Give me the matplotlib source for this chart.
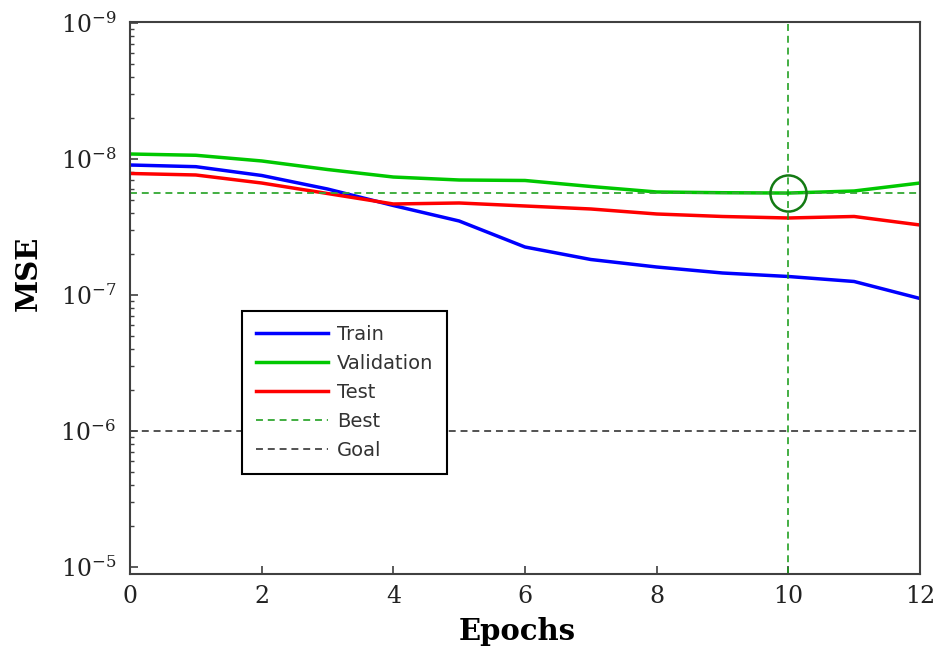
import matplotlib
matplotlib.use("Agg")
import matplotlib.pyplot as plt
from matplotlib.ticker import FixedLocator, FixedFormatter
import numpy as np

# performance values per epoch
epochs = list(range(13))
train = [1.107e-8, 1.139e-8, 1.322e-8, 1.662e-8, 2.198e-8, 2.857e-8, 4.437e-8,
         5.483e-8, 6.225e-8, 6.89e-8, 7.31e-8, 7.956e-8, 1.061e-7]
validation = [9.19e-9, 9.39e-9, 1.034e-8, 1.195e-8, 1.357e-8, 1.427e-8, 1.439e-8,
              1.593e-8, 1.748e-8, 1.77e-8, 1.78e-8, 1.719e-8, 1.502e-8]
test = [1.278e-8, 1.311e-8, 1.502e-8, 1.794e-8, 2.142e-8, 2.106e-8, 2.216e-8,
        2.331e-8, 2.537e-8, 2.647e-8, 2.715e-8, 2.647e-8, 3.057e-8]
goal = 1e-6
best_epoch = 10
best = validation[best_epoch]

y_major = [1e-9, 1e-8, 1e-7, 1e-6, 1e-5]
y_labels = ["$10^{-9}$", "$10^{-8}$", "$10^{-7}$", "$10^{-6}$", "$10^{-5}$"]
x_ticks = [0, 2, 4, 6, 8, 10, 12]

plt.rcParams['mathtext.fontset'] = 'dejavuserif'
plt.rcParams['lines.scale_dashes'] = False

fig = plt.figure(figsize=(9.42, 6.52), dpi=100)
ax = fig.add_axes([0.138, 0.1196, 0.8386, 0.8467])

ax.plot(epochs, train, color='#0000ff', lw=2.5, label='Train')
ax.plot(epochs, validation, color='#00c800', lw=2.5, label='Validation')
ax.plot(epochs, test, color='#ff0000', lw=2.5, label='Test')
ax.axhline(best, color='#33a833', lw=1.3, dashes=(5, 3.5), label='Best')
ax.axhline(goal, color='#444444', lw=1.3, dashes=(5, 3.5), label='Goal')
ax.axvline(best_epoch, color='#119911', lw=1.1, dashes=(5, 3.5))
ax.plot([best_epoch], [best], 'o', ms=26, mfc='none', mec='#137a13', mew=1.8)

ax.set_yscale('log')
ax.set_ylim(1.126e-5, 9.83e-10)
ax.set_xlim(0, 12)

# minor ticks crowd just below each labelled decade
minor = []
for n in range(-9, -5):
    for k in range(2, 10):
        minor.append(10.0 ** (n + 1) / k)
ax.yaxis.set_major_locator(FixedLocator(y_major))
ax.yaxis.set_major_formatter(FixedFormatter(y_labels))
ax.yaxis.set_minor_locator(FixedLocator(minor))
ax.yaxis.set_minor_formatter(FixedFormatter([]))
ax.set_xticks(x_ticks)
ax.set_xticklabels([str(t) for t in x_ticks])

ax.tick_params(axis='both', which='major', direction='in', length=5.5, width=1.2,
               labelsize=17, colors='#404040', labelcolor='#222222')
ax.tick_params(axis='y', which='minor', direction='in', length=3, width=1.0,
               colors='#404040')
ax.tick_params(axis='y', which='major', pad=10)
ax.tick_params(axis='x', which='major', pad=8)
for lab in ax.get_xticklabels() + ax.get_yticklabels():
    lab.set_family('DejaVu Serif')

for s in ax.spines.values():
    s.set_color('#404040')
    s.set_linewidth(1.5)

ax.set_xlabel('Epochs', fontsize=21, fontweight='bold', family='DejaVu Serif')
ax.set_ylabel('MSE', fontsize=21, fontweight='bold', family='DejaVu Serif')
ax.xaxis.set_label_coords(0.49, -0.078)
ax.yaxis.set_label_coords(-0.11, 0.545)

leg = ax.legend(loc='upper left', bbox_to_anchor=(0.1418, 0.4764), borderaxespad=0,
                fancybox=False, framealpha=1, edgecolor='black', fontsize=14,
                handlelength=3.7, handletextpad=0.5, labelspacing=0.52,
                borderpad=0.7)
leg.get_frame().set_linewidth(1.5)
for t in leg.get_texts():
    t.set_color('#333333')

fig.savefig('out.png', dpi=100)
